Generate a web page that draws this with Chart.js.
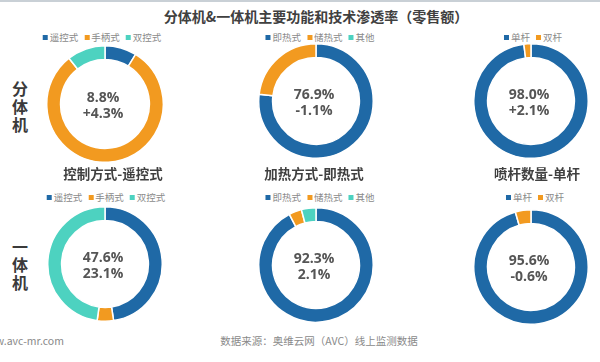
<!DOCTYPE html>
<html>
<head>
<meta charset="utf-8">
<script src="https://cdn.jsdelivr.net/npm/chart.js@4/dist/chart.umd.min.js"></script>
<style>
  html, body { margin:0; padding:0; background:#fff; }
  body { width:600px; height:362px; position:relative; overflow:hidden;
         font-family:"Open Sans","Noto Sans CJK SC",sans-serif; }
  .abs { position:absolute; white-space:nowrap; }
  .title { font-family:"Noto Sans CJK SC",sans-serif; font-weight:bold; font-size:14px; color:#404040; transform:translate(-50%,-50%); }
  .sub { font-family:"Noto Sans CJK SC",sans-serif; font-weight:bold; font-size:13.5px; color:#404040; transform:translate(-50%,-50%); }
  .row { font-family:"Noto Sans CJK SC",sans-serif; font-weight:bold; font-size:16px; color:#3a3a3a; transform:translate(-50%,-50%); }
  .center { font-family:"Open Sans",sans-serif; font-weight:bold; font-size:14px; color:#555; transform:translate(-50%,-50%); }
  .legend { font-family:"Noto Sans CJK SC",sans-serif; font-size:9.5px; color:#8a8a8a; transform:translate(-50%,-50%); display:flex; align-items:center; }
  .legend .sw { display:inline-block; width:5px; height:5px; margin-right:2px; }
  .legend .it { display:flex; align-items:center; margin:0 3px; }
  .foot { font-family:"Noto Sans CJK SC",sans-serif; font-size:10.5px; color:#8a8a8a; transform:translateY(-50%); }
  canvas { position:absolute; }
  .topline { position:absolute; left:0; top:0; width:600px; height:2px; background:#c9d0d6; }
</style>
</head>
<body>
<div class="topline"></div>
<script>
// ---- data ----
const chartTitle = '分体机&一体机主要功能和技术渗透率（零售额）';
const rowLabels = ['分体机', '一体机'];
const subTitles = ['控制方式-遥控式', '加热方式-即热式', '喷杆数量-单杆'];
const controlCats = ['遥控式', '手柄式', '双控式'];
const heatCats = ['即热式', '储热式', '其他'];
const sprayCats = ['单杆', '双杆'];
const splitControl = [8.8, 80.6, 10.6];
const splitHeat = [76.9, 23.1, 0];
const splitSpray = [98.0, 2.0];
const allInOneControl = [47.6, 4.6, 47.8];
const allInOneHeat = [92.3, 3.6, 4.1];
const allInOneSpray = [95.6, 4.4];
const splitShare = ['8.8%', '76.9%', '98.0%'];
const splitChange = ['+4.3%', '-1.1%', '+2.1%'];
const allInOneShare = ['47.6%', '92.3%', '95.6%'];
const allInOneChange = ['23.1%', '2.1%', '-0.6%'];
const sourceNote = '数据来源：奥维云网（AVC）线上监测数据';
const siteNote = 'www.avc-mr.com';

// ---- style / layout ----
const COLORS = ['#1f69a6', '#f29a20', '#4dd2c0'];
const body = document.body;
function addText(cls, text, x, y) {
  const d = document.createElement('div');
  d.className = 'abs ' + cls;
  d.textContent = text;
  d.style.left = x + 'px';
  d.style.top = y + 'px';
  body.appendChild(d);
  return d;
}
function addLegend(cats, x, y) {
  const d = document.createElement('div');
  d.className = 'abs legend';
  d.style.left = x + 'px';
  d.style.top = y + 'px';
  cats.forEach((c, i) => {
    const it = document.createElement('span');
    it.className = 'it';
    const sw = document.createElement('span');
    sw.className = 'sw';
    sw.style.background = COLORS[i];
    it.appendChild(sw);
    it.appendChild(document.createTextNode(c));
    d.appendChild(it);
  });
  body.appendChild(d);
}
function addDonut(cats, values, cx, cy, r, thick) {
  const cv = document.createElement('canvas');
  cv.width = 2 * r; cv.height = 2 * r;
  cv.style.left = (cx - r) + 'px';
  cv.style.top = (cy - r) + 'px';
  cv.style.width = 2 * r + 'px';
  cv.style.height = 2 * r + 'px';
  body.appendChild(cv);
  new Chart(cv, {
    type: 'doughnut',
    data: { labels: cats, datasets: [{ data: values, backgroundColor: COLORS.slice(0, cats.length),
      borderColor: '#ffffff', borderWidth: 1.5 }] },
    options: {
      responsive: false, animation: false, devicePixelRatio: 1,
      cutout: ((r - thick) / r * 100) + '%',
      layout: { padding: 0 },
      plugins: { legend: { display: false }, tooltip: { enabled: false } }
    }
  });
}

addText('title', chartTitle, 316, 16);

// row labels (vertical)
[[88, 106, 124], [246, 264, 282]].forEach((ys, ri) => {
  [...rowLabels[ri]].forEach((ch, k) => addText('row', ch, 20, ys[k]));
});

const topLegendPos = [[102, 37], [320, 37], [533, 37]];
const botLegendPos = [[106, 197], [320, 197], [535, 197]];
const catsList = [controlCats, heatCats, sprayCats];
catsList.forEach((c, i) => {
  addLegend(c, topLegendPos[i][0], topLegendPos[i][1]);
  addLegend(c, botLegendPos[i][0], botLegendPos[i][1]);
});

const topCenters = [[105, 104, 59], [316, 101, 58], [531, 101, 58]];
const botCenters = [[105, 264, 58], [316, 265, 58], [531, 267, 58]];
const topData = [splitControl, splitHeat, splitSpray];
const botData = [allInOneControl, allInOneHeat, allInOneSpray];
catsList.forEach((c, i) => {
  const [tx, ty, tr] = topCenters[i];
  addDonut(c, topData[i], tx, ty, tr, 14);
  addText('center', splitShare[i], tx - 2, ty - 8);
  addText('center', splitChange[i], tx - 2, ty + 8);
  const [bx, by, br] = botCenters[i];
  addDonut(c, botData[i], bx, by, br, 14);
  addText('center', allInOneShare[i], bx - 2, by - 8);
  addText('center', allInOneChange[i], bx - 2, by + 8);
});

const subX = [113, 314, 537];
subTitles.forEach((s, i) => addText('sub', s, subX[i], 173));

addText('foot', siteNote, -21, 340);
const src = addText('foot', sourceNote, 319, 340);
src.style.transform = 'translate(-50%,-50%)';
</script>
</body>
</html>
